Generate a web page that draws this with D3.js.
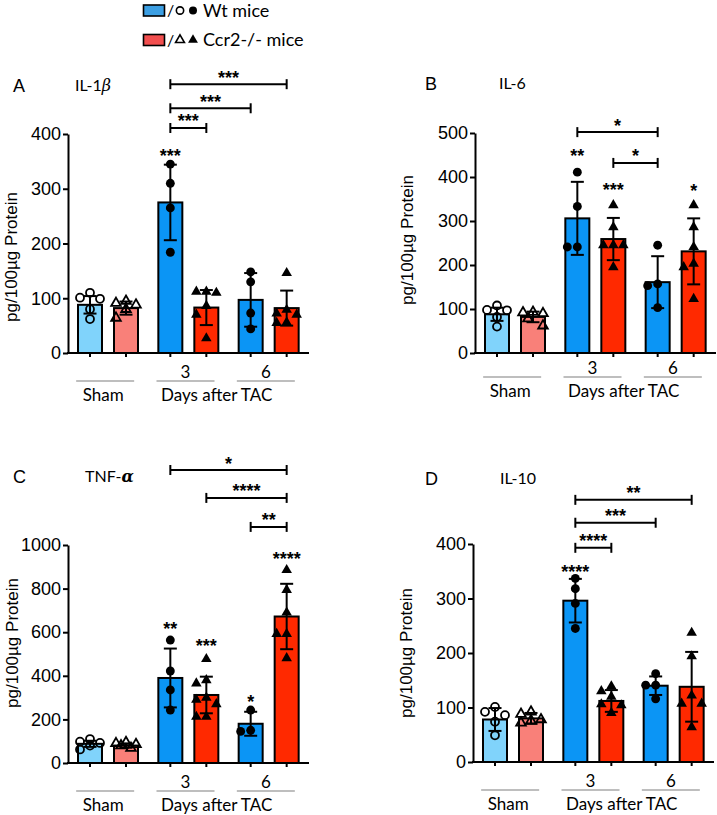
<!DOCTYPE html>
<html>
<head>
<meta charset="utf-8">
<script src="https://cdn.jsdelivr.net/npm/d3@7"></script>
<style>
  body { margin: 0; background: #fff; }
  svg { display: block; }
</style>
</head>
<body>
<script>
// bar order everywhere: Sham Wt, Sham Ccr2, day3 Wt, day3 Ccr2, day6 Wt, day6 Ccr2
const groups = ["Sham", "3", "6"];
const strains = ["Wt", "Ccr2"];

// IL-1b
const il1bMean = [88, 82, 275, 83, 97, 82];
const il1bSd = [16, 12, 69, 32, 49, 32];
const il1bPoints = [[110, 101, 99, 80, 62], [95, 91, 88, 80, 64], [345, 310, 265, 184],
  [112, 110, 112, 86, 70, 27], [148, 130, 73, 44], [146, 79, 72, 70, 56, 55]];
const il1bStars = [null, null, ["***", 367], null, null, null];
const il1bBrackets = [[2, 3, 411, "***"], [2, 4, 447, "***"], [2, 5, 491, "***"]];

// IL-6
const il6Mean = [88, 82, 306, 259, 161, 231];
const il6Sd = [15, 12, 83, 48, 59, 75];
const il6Points = [[108, 98, 97, 82, 60], [93, 92, 90, 78, 62], [411, 333, 241, 241],
  [336, 286, 245, 245, 245, 195], [245, 157, 153, 103], [336, 286, 241, 203, 195, 123]];
const il6Stars = [null, null, ["**", 457], ["***", 380], null, ["*", 377]];
const il6Brackets = [[3, 4, 432, "*"], [2, 4, 502, "*"]];

// TNF-a
const tnfMean = [88, 80, 390, 312, 180, 672];
const tnfSd = [14, 10, 135, 84, 55, 150];
const tnfPoints = [[110, 98, 92, 80, 62], [95, 90, 86, 80, 68], [564, 422, 335, 243],
  [477, 380, 365, 300, 290, 270, 212, 212], [243, 150, 145], [885, 794, 690, 592, 592, 481]];
const tnfStars = [null, null, ["**", 633], ["***", 555], ["*", 298], ["****", 954]];
const tnfBrackets = [[4, 5, 1083, "**"], [3, 5, 1216, "****"], [2, 5, 1344, "*"]];

// IL-10
const il10Mean = [78, 80, 296, 112, 140, 138];
const il10Sd = [21, 10, 40, 20, 17, 64];
const il10Points = [[101, 92, 86, 74, 49], [92, 88, 78, 76, 72], [337, 318, 291, 245],
  [139, 130, 120, 106, 104, 90], [162, 141, 141, 116], [237, 194, 122, 107, 107, 64]];
const il10Stars = [null, null, ["****", 356], null, null, null];
const il10Brackets = [[2, 3, 393, "****"], [2, 4, 439, "***"], [2, 5, 481, "**"]];

const fillColors = ["#80d3fb", "#f98079", "#0b95f5", "#ff2900", "#0b95f5", "#ff2900"];
const sansF = "Lato, 'Open Sans', sans-serif";
const arialF = "'Liberation Sans', Arial, sans-serif";

const svg = d3.select("body").append("svg")
  .attr("width", 717)
  .attr("height", 815);

// legend
const legend = svg.append("g");
[["#3c9fe3", "Wt mice", d3.symbolCircle, 10.5], ["#f24f4f", "Ccr2-/- mice", d3.symbolTriangle, 40]]
  .forEach(([col, txt, sym, cy]) => {
    legend.append("rect").attr("x", 143.5).attr("y", cy - 5.5).attr("width", 21).attr("height", 11)
      .attr("fill", col).attr("stroke", "#000").attr("stroke-width", 1.6);
    legend.append("text").attr("x", 167).attr("y", cy).attr("dy", "0.35em")
      .attr("font-family", sansF).attr("font-size", 16).text("/");
    const s = sym === d3.symbolCircle ? 42 : 34;
    legend.append("path").attr("d", d3.symbol(sym, s)())
      .attr("transform", `translate(180,${cy})`)
      .attr("fill", "none").attr("stroke", "#000").attr("stroke-width", 1.6);
    legend.append("path").attr("d", d3.symbol(sym, s + 8)())
      .attr("transform", `translate(193,${cy})`).attr("fill", "#000");
    legend.append("text").attr("x", 203).attr("y", cy).attr("dy", "0.35em")
      .attr("font-family", sansF).attr("font-size", 18).text(txt);
  });

const panels = [
  { letter: "A", title: [["IL-1", null], ["β", "italic"]], mean: il1bMean, sd: il1bSd, pts: il1bPoints,
    stars: il1bStars, brackets: il1bBrackets, max: 400, step: 100,
    x0: 68, y0: 353, yTop: 134, letterX: 13, letterY: 92, titleX: 75, ytX: 11, ytY: 257, dyLab: 0 },
  { letter: "B", title: [["IL-6", null]], mean: il6Mean, sd: il6Sd, pts: il6Points,
    stars: il6Stars, brackets: il6Brackets, max: 500, step: 100,
    x0: 475, y0: 353, yTop: 133, letterX: 425, letterY: 90, titleX: 499, ytX: 407, ytY: 240, dyLab: -4 },
  { letter: "C", title: [["TNF-", null], ["α", "bolditalic"]], mean: tnfMean, sd: tnfSd, pts: tnfPoints,
    stars: tnfStars, brackets: tnfBrackets, max: 1000, step: 200,
    x0: 68, y0: 763, yTop: 545, letterX: 13, letterY: 483, titleX: 85, ytX: 12, ytY: 643, dyLab: 0 },
  { letter: "D", title: [["IL-10", null]], mean: il10Mean, sd: il10Sd, pts: il10Points,
    stars: il10Stars, brackets: il10Brackets, max: 400, step: 100,
    x0: 473, y0: 762, yTop: 544, letterX: 425, letterY: 485, titleX: 500, ytX: 406, ytY: 653, dyLab: 0 }
];

// spread points sideways when they would overlap (but stay inside the bar)
function swarm(vals, y, r) {
  const placed = [];
  const sorted = vals.slice().sort((a, b) => b - a);
  const offs = [0, -10, 10, -5, 5];
  sorted.forEach(v => {
    const py = y(v);
    let dx = 0, bestD = -1;
    for (const o of offs) {
      const d = placed.length ? d3.min(placed, q => Math.hypot(q.dx - o, q.py - py)) : Infinity;
      if (d >= 2 * r) { dx = o; break; }
      if (d > bestD) { bestD = d; dx = o; }
    }
    placed.push({ v, dx, py });
  });
  return placed;
}

panels.forEach(p => {
  const g = svg.append("g");
  const y = d3.scaleLinear().domain([0, p.max]).range([p.y0, p.yTop]);
  const xg = d3.scaleBand().domain(groups).range([p.x0, p.x0 + 241]);
  const xs = d3.scaleBand().domain(strains).range([4, 76]).paddingInner(1 / 3).paddingOuter(1 / 6);
  const cx = i => xg(groups[Math.floor(i / 2)]) + xs(strains[i % 2]) + xs.bandwidth() / 2;
  const gc = k => xg(groups[k]) + xg.bandwidth() / 2;

  // bars
  p.mean.forEach((m, i) => {
    g.append("rect")
      .attr("x", cx(i) - xs.bandwidth() / 2)
      .attr("y", y(m))
      .attr("width", xs.bandwidth())
      .attr("height", p.y0 - y(m))
      .attr("fill", fillColors[i])
      .attr("stroke", "#000")
      .attr("stroke-width", 2);
  });

  // error bars (mean +/- SD)
  p.mean.forEach((m, i) => {
    const lo = y(m - p.sd[i]), hi = y(m + p.sd[i]), x = cx(i);
    g.append("line").attr("x1", x).attr("x2", x).attr("y1", lo).attr("y2", hi)
      .attr("stroke", "#000").attr("stroke-width", 2);
    [lo, hi].forEach(yy => g.append("line").attr("x1", x - 6.5).attr("x2", x + 6.5)
      .attr("y1", yy).attr("y2", yy).attr("stroke", "#000").attr("stroke-width", 2));
  });

  // individual animals
  p.pts.forEach((vals, i) => {
    const open = i < 2;
    const sym = i % 2 === 0 ? d3.symbolCircle : d3.symbolTriangle;
    const size = i % 2 === 0 ? (open ? 50 : 62) : (open ? 40 : 48);
    g.selectAll(null).data(swarm(vals, y, 4.5)).enter().append("path")
      .attr("d", d3.symbol(sym, size)())
      .attr("transform", d => `translate(${cx(i) + d.dx},${d.py})`)
      .attr("fill", open ? "none" : "#000")
      .attr("stroke", open ? "#000" : "none")
      .attr("stroke-width", 1.8);
  });

  // y axis
  const ya = g.append("g").attr("transform", `translate(${p.x0},0)`)
    .call(d3.axisLeft(y).tickValues(d3.range(0, p.max + 1, p.step)).tickFormat(d3.format("d"))
      .tickSize(5).tickSizeOuter(0).tickPadding(2));
  ya.select(".domain").attr("stroke-width", 2);
  ya.selectAll(".tick line").attr("stroke-width", 2);
  ya.selectAll(".tick text").attr("font-family", arialF).attr("font-size", 18).attr("fill", "#000");

  // x axis line with a tick under every bar
  g.append("line").attr("x1", p.x0 - 1).attr("x2", p.x0 + 241).attr("y1", p.y0).attr("y2", p.y0)
    .attr("stroke", "#000").attr("stroke-width", 2);
  p.mean.forEach((m, i) => g.append("line").attr("x1", cx(i)).attr("x2", cx(i))
    .attr("y1", p.y0).attr("y2", p.y0 + 4).attr("stroke", "#000").attr("stroke-width", 2));

  // group labels below
  const yNum = p.y0 + 19 + p.dyLab, yRule = p.y0 + 28 + p.dyLab, yName = p.y0 + 42 + p.dyLab;
  groups.forEach((gName, k) => {
    g.append("line").attr("x1", gc(k) - 32).attr("x2", gc(k) + 26).attr("y1", yRule).attr("y2", yRule)
      .attr("stroke", "#a8a8a8").attr("stroke-width", 1.5);
    if (k > 0) g.append("text").attr("x", gc(k) - 3).attr("y", yNum).attr("dy", "0.35em")
      .attr("text-anchor", "middle").attr("font-family", sansF).attr("font-size", 17).text(gName);
  });
  g.append("text").attr("x", gc(0) - 5).attr("y", yName).attr("dy", "0.35em")
    .attr("text-anchor", "middle").attr("font-family", sansF).attr("font-size", 17).text("Sham");
  g.append("text").attr("x", (gc(1) + gc(2)) / 2 - 12).attr("y", yName).attr("dy", "0.35em")
    .attr("text-anchor", "middle").attr("font-family", sansF).attr("font-size", 17).text("Days after TAC");

  // y title
  g.append("text")
    .attr("transform", `translate(${p.ytX},${p.ytY}) rotate(-90)`)
    .attr("dy", "0.35em").attr("text-anchor", "middle")
    .attr("font-family", arialF).attr("font-size", 17).text("pg/100µg Protein");

  // panel letter + cytokine name
  g.append("text").attr("x", p.letterX).attr("y", p.letterY)
    .attr("font-family", arialF).attr("font-size", 18).text(p.letter);
  const t = g.append("text").attr("x", p.titleX).attr("y", p.letterY - 1)
    .attr("font-family", sansF).attr("font-size", 16);
  p.title.forEach(([s, st]) => {
    const sp = t.append("tspan").text(s);
    if (st) sp.attr("font-style", "italic").attr("font-family", "'DejaVu Serif', serif");
    if (st === "bolditalic") sp.attr("font-weight", "bold");
  });

  // stars over single bars (vs sham)
  p.stars.forEach((s, i) => {
    if (!s) return;
    g.append("text").attr("x", cx(i)).attr("y", y(s[1]) + 10)
      .attr("text-anchor", "middle").attr("font-family", arialF).attr("font-weight", "bold")
      .attr("font-size", 18).text(s[0]);
  });

  // comparison brackets
  p.brackets.forEach(([a, b, lvl, lab]) => {
    const yy = y(lvl);
    g.append("line").attr("x1", cx(a)).attr("x2", cx(b)).attr("y1", yy).attr("y2", yy)
      .attr("stroke", "#000").attr("stroke-width", 2);
    [a, b].forEach(i => g.append("line").attr("x1", cx(i)).attr("x2", cx(i))
      .attr("y1", yy - 5).attr("y2", yy + 5).attr("stroke", "#000").attr("stroke-width", 2));
    g.append("text").attr("x", (cx(a) + cx(b)) / 2).attr("y", yy - 0.5)
      .attr("text-anchor", "middle").attr("font-family", arialF).attr("font-weight", "bold")
      .attr("font-size", 18).text(lab);
  });
});
</script>
</body>
</html>
